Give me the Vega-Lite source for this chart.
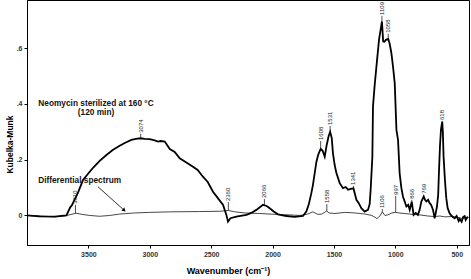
{
  "$schema": "https://vega.github.io/schema/vega-lite/v6.json",
  "width": 442,
  "height": 245,
  "autosize": {"type": "none"},
  "padding": {"left": 27, "top": 0, "right": 2, "bottom": 34},
  "background": "white",
  "config": {
    "view": {"stroke": "black", "strokeWidth": 1},
    "font": "Liberation Sans",
    "axis": {"grid": false, "domainColor": "black", "tickColor": "black", "tickSize": 3, "labelFont": "Liberation Sans", "labelFontSize": 7, "labelFontWeight": "bold", "labelColor": "#333", "titleFont": "Liberation Sans", "titleFontWeight": "bold", "titleColor": "black"}
  },
  "datasets": {
    "spec": [
      {"s":"m","wn":4000,"k":0.000},{"s":"m","wn":3897,"k":-0.003},{"s":"m","wn":3774,"k":-0.004},{"s":"m","wn":3679,"k":0.000},
      {"s":"m","wn":3647,"k":0.030},{"s":"m","wn":3635,"k":0.036},{"s":"m","wn":3583,"k":0.084},{"s":"m","wn":3544,"k":0.127},
      {"s":"m","wn":3511,"k":0.145},{"s":"m","wn":3462,"k":0.171},{"s":"m","wn":3408,"k":0.196},{"s":"m","wn":3353,"k":0.217},
      {"s":"m","wn":3302,"k":0.235},{"s":"m","wn":3245,"k":0.250},{"s":"m","wn":3204,"k":0.260},{"s":"m","wn":3150,"k":0.271},
      {"s":"m","wn":3114,"k":0.275},{"s":"m","wn":3074,"k":0.277},{"s":"m","wn":3041,"k":0.275},{"s":"m","wn":3000,"k":0.274},
      {"s":"m","wn":2960,"k":0.269},{"s":"m","wn":2933,"k":0.265},{"s":"m","wn":2911,"k":0.267},{"s":"m","wn":2878,"k":0.265},
      {"s":"m","wn":2837,"k":0.238},{"s":"m","wn":2797,"k":0.228},{"s":"m","wn":2756,"k":0.205},{"s":"m","wn":2699,"k":0.189},
      {"s":"m","wn":2648,"k":0.175},{"s":"m","wn":2610,"k":0.163},{"s":"m","wn":2567,"k":0.139},{"s":"m","wn":2528,"k":0.120},
      {"s":"m","wn":2485,"k":0.085},{"s":"m","wn":2447,"k":0.063},{"s":"m","wn":2403,"k":0.038},{"s":"m","wn":2376,"k":0.002},
      {"s":"m","wn":2363,"k":-0.022},{"s":"m","wn":2343,"k":-0.010},{"s":"m","wn":2295,"k":-0.004},{"s":"m","wn":2213,"k":0.002},
      {"s":"m","wn":2173,"k":0.009},{"s":"m","wn":2132,"k":0.020},{"s":"m","wn":2078,"k":0.038},{"s":"m","wn":2048,"k":0.034},
      {"s":"m","wn":2023,"k":0.026},{"s":"m","wn":1991,"k":0.014},{"s":"m","wn":1956,"k":0.004},{"s":"m","wn":1887,"k":-0.002},
      {"s":"m","wn":1820,"k":-0.005},{"s":"m","wn":1752,"k":-0.002},{"s":"m","wn":1725,"k":0.014},{"s":"m","wn":1706,"k":0.038},
      {"s":"m","wn":1684,"k":0.080},{"s":"m","wn":1671,"k":0.110},{"s":"m","wn":1643,"k":0.192},{"s":"m","wn":1629,"k":0.217},
      {"s":"m","wn":1608,"k":0.239},{"s":"m","wn":1592,"k":0.232},{"s":"m","wn":1575,"k":0.211},{"s":"m","wn":1559,"k":0.253},
      {"s":"m","wn":1543,"k":0.285},{"s":"m","wn":1531,"k":0.300},{"s":"m","wn":1518,"k":0.278},{"s":"m","wn":1508,"k":0.223},
      {"s":"m","wn":1494,"k":0.181},{"s":"m","wn":1480,"k":0.152},{"s":"m","wn":1453,"k":0.116},{"s":"m","wn":1426,"k":0.098},
      {"s":"m","wn":1404,"k":0.102},{"s":"m","wn":1385,"k":0.092},{"s":"m","wn":1364,"k":0.095},{"s":"m","wn":1341,"k":0.097},
      {"s":"m","wn":1317,"k":0.056},{"s":"m","wn":1299,"k":0.045},{"s":"m","wn":1277,"k":0.026},{"s":"m","wn":1250,"k":0.014},
      {"s":"m","wn":1223,"k":0.020},{"s":"m","wn":1209,"k":0.041},{"s":"m","wn":1201,"k":0.092},{"s":"m","wn":1187,"k":0.211},
      {"s":"m","wn":1182,"k":0.391},{"s":"m","wn":1168,"k":0.469},{"s":"m","wn":1154,"k":0.534},{"s":"m","wn":1133,"k":0.630},
      {"s":"m","wn":1109,"k":0.696},{"s":"m","wn":1099,"k":0.624},{"s":"m","wn":1089,"k":0.623},{"s":"m","wn":1077,"k":0.630},
      {"s":"m","wn":1058,"k":0.633},{"s":"m","wn":1046,"k":0.616},{"s":"m","wn":1032,"k":0.582},{"s":"m","wn":1018,"k":0.530},
      {"s":"m","wn":1005,"k":0.475},{"s":"m","wn":991,"k":0.307},{"s":"m","wn":978,"k":0.271},{"s":"m","wn":965,"k":0.152},
      {"s":"m","wn":951,"k":0.099},{"s":"m","wn":938,"k":0.068},{"s":"m","wn":910,"k":0.032},{"s":"m","wn":895,"k":0.038},
      {"s":"m","wn":883,"k":0.020},{"s":"m","wn":866,"k":0.050},{"s":"m","wn":857,"k":0.020},{"s":"m","wn":851,"k":0.002},
      {"s":"m","wn":834,"k":0.009},{"s":"m","wn":816,"k":0.002},{"s":"m","wn":802,"k":0.020},{"s":"m","wn":788,"k":0.050},
      {"s":"m","wn":769,"k":0.068},{"s":"m","wn":758,"k":0.056},{"s":"m","wn":747,"k":0.050},{"s":"m","wn":733,"k":0.056},
      {"s":"m","wn":720,"k":0.044},{"s":"m","wn":708,"k":0.038},{"s":"m","wn":693,"k":0.020},{"s":"m","wn":680,"k":-0.010},
      {"s":"m","wn":669,"k":0.013},{"s":"m","wn":661,"k":0.032},{"s":"m","wn":651,"k":0.074},{"s":"m","wn":645,"k":0.152},
      {"s":"m","wn":636,"k":0.253},{"s":"m","wn":628,"k":0.310},{"s":"m","wn":618,"k":0.337},{"s":"m","wn":613,"k":0.300},
      {"s":"m","wn":607,"k":0.211},{"s":"m","wn":596,"k":0.127},{"s":"m","wn":585,"k":0.062},{"s":"m","wn":574,"k":0.027},
      {"s":"m","wn":558,"k":0.008},{"s":"m","wn":541,"k":-0.002},{"s":"m","wn":517,"k":-0.010},{"s":"m","wn":501,"k":-0.002},
      {"s":"m","wn":484,"k":-0.020},{"s":"m","wn":476,"k":-0.013},{"s":"m","wn":460,"k":-0.023},{"s":"m","wn":447,"k":-0.005},
      {"s":"m","wn":435,"k":-0.002},{"s":"m","wn":427,"k":-0.016},{"s":"m","wn":419,"k":-0.010},{"s":"m","wn":407,"k":-0.005},
      {"s":"d","wn":4000,"k":0.000},{"s":"d","wn":3897,"k":-0.002},{"s":"d","wn":3774,"k":-0.005},{"s":"d","wn":3676,"k":0.000},
      {"s":"d","wn":3600,"k":0.008},{"s":"d","wn":3554,"k":0.004},{"s":"d","wn":3489,"k":0.000},{"s":"d","wn":3408,"k":-0.003},
      {"s":"d","wn":3326,"k":0.000},{"s":"d","wn":3245,"k":0.005},{"s":"d","wn":3123,"k":0.009},{"s":"d","wn":3000,"k":0.011},
      {"s":"d","wn":2837,"k":0.013},{"s":"d","wn":2593,"k":0.014},{"s":"d","wn":2430,"k":0.015},{"s":"d","wn":2360,"k":0.018},
      {"s":"d","wn":2308,"k":0.013},{"s":"d","wn":2226,"k":0.009},{"s":"d","wn":2104,"k":0.007},{"s":"d","wn":1982,"k":0.004},
      {"s":"d","wn":1860,"k":0.002},{"s":"d","wn":1778,"k":0.000},{"s":"d","wn":1713,"k":0.005},{"s":"d","wn":1672,"k":0.013},
      {"s":"d","wn":1632,"k":0.004},{"s":"d","wn":1599,"k":0.005},{"s":"d","wn":1558,"k":0.016},{"s":"d","wn":1541,"k":0.009},
      {"s":"d","wn":1492,"k":0.007},{"s":"d","wn":1411,"k":0.011},{"s":"d","wn":1330,"k":0.009},{"s":"d","wn":1248,"k":0.005},
      {"s":"d","wn":1191,"k":0.000},{"s":"d","wn":1150,"k":-0.011},{"s":"d","wn":1126,"k":-0.002},{"s":"d","wn":1106,"k":0.013},
      {"s":"d","wn":1085,"k":0.000},{"s":"d","wn":1061,"k":0.002},{"s":"d","wn":1028,"k":0.009},{"s":"d","wn":997,"k":0.011},
      {"s":"d","wn":971,"k":0.009},{"s":"d","wn":922,"k":0.007},{"s":"d","wn":865,"k":0.004},{"s":"d","wn":800,"k":0.002},
      {"s":"d","wn":735,"k":-0.002},{"s":"d","wn":679,"k":-0.004},{"s":"d","wn":638,"k":-0.002},{"s":"d","wn":597,"k":-0.005},
      {"s":"d","wn":541,"k":-0.004},{"s":"d","wn":492,"k":-0.007},{"s":"d","wn":451,"k":-0.011},{"s":"d","wn":411,"k":-0.005}
    ],
    "peaks": [
      {"wn":3074,"t":"3074","k":0.277,"ly":0.293},
      {"wn":3605,"t":"3610","k":0.008,"ly":0.038},
      {"wn":2360,"t":"2360","k":0.018,"ly":0.048},
      {"wn":2066,"t":"2066","k":0.038,"ly":0.059},
      {"wn":1608,"t":"1608","k":0.239,"ly":0.267},
      {"wn":1531,"t":"1531","k":0.300,"ly":0.321},
      {"wn":1558,"t":"1558","k":0.016,"ly":0.041},
      {"wn":1341,"t":"1341","k":0.097,"ly":0.106},
      {"wn":1109,"t":"1109","k":0.696,"ly":0.716},
      {"wn":1058,"t":"1058","k":0.633,"ly":0.652},
      {"wn":1106,"t":"1106","k":0.013,"ly":0.023},
      {"wn":997,"t":"997","k":0.011,"ly":0.070},
      {"wn":866,"t":"866","k":0.050,"ly":0.056},
      {"wn":769,"t":"769","k":0.068,"ly":0.074},
      {"wn":618,"t":"618","k":0.337,"ly":0.339}
    ],
    "notes": [
      {"wn":3438,"k":0.400,"t":"Neomycin sterilized at 160 °C"},
      {"wn":3438,"k":0.366,"t":"(120 min)"},
      {"wn":3571,"k":0.124,"t":"Differential spectrum"}
    ],
    "arrow": [
      {"wn":3422,"k":0.103,"wn2":3212,"k2":0.020}
    ]
  },
  "layer": [
    {
      "data": {"name": "spec"},
      "transform": [{"filter": "datum.s === 'd'"}],
      "mark": {"type": "line", "color": "#333", "strokeWidth": 0.9, "interpolate": "linear"},
      "encoding": {
        "x": {"field": "wn", "type": "quantitative", "scale": {"domain": [400, 4000], "reverse": true, "nice": false, "zero": false},
          "axis": {"values": [3500, 3000, 2500, 2000, 1500, 1000, 500], "title": "Wavenumber (cm⁻¹)", "titleFontSize": 9, "titleX": 201, "titleY": 25, "titleBaseline": "middle", "titleAnchor": null, "labelPadding": 2, "format": "d"}},
        "y": {"field": "k", "type": "quantitative", "scale": {"domain": [-0.106, 0.773], "nice": false, "zero": false},
          "axis": {"values": [0, 0.2, 0.4, 0.6], "labelExpr": "datum.value == 0 ? '0' : replace(format(datum.value, '.1f'), '0.', '.')", "title": "Kubelka-Munk", "titleFontSize": 8.5, "titleAngle": 270, "titleX": -18, "titleY": 144, "titleAlign": "center", "titleBaseline": "middle", "labelPadding": 2}}
      }
    },
    {
      "data": {"name": "spec"},
      "transform": [{"filter": "datum.s === 'm'"}],
      "mark": {"type": "line", "color": "black", "strokeWidth": 1.8},
      "encoding": {
        "x": {"field": "wn", "type": "quantitative"},
        "y": {"field": "k", "type": "quantitative"}
      }
    },
    {
      "data": {"name": "peaks"},
      "mark": {"type": "rule", "color": "#222", "strokeWidth": 0.8},
      "encoding": {
        "x": {"field": "wn", "type": "quantitative"},
        "y": {"field": "k", "type": "quantitative"},
        "y2": {"field": "ly"}
      }
    },
    {
      "data": {"name": "peaks"},
      "mark": {"type": "text", "angle": 270, "align": "left", "baseline": "middle", "fontSize": 6, "color": "#222", "dx": 1},
      "encoding": {
        "x": {"field": "wn", "type": "quantitative"},
        "y": {"field": "ly", "type": "quantitative"},
        "text": {"field": "t"}
      }
    },
    {
      "data": {"name": "notes"},
      "mark": {"type": "text", "align": "center", "baseline": "middle", "fontSize": 8.3, "fontWeight": "bold", "color": "#111"},
      "encoding": {
        "x": {"field": "wn", "type": "quantitative"},
        "y": {"field": "k", "type": "quantitative"},
        "text": {"field": "t"}
      }
    },
    {
      "data": {"name": "arrow"},
      "mark": {"type": "rule", "color": "black", "strokeWidth": 0.8},
      "encoding": {
        "x": {"field": "wn", "type": "quantitative"},
        "y": {"field": "k", "type": "quantitative"},
        "x2": {"field": "wn2"},
        "y2": {"field": "k2"}
      }
    },
    {
      "data": {"name": "arrow"},
      "mark": {"type": "point", "shape": "triangle", "filled": true, "color": "black", "size": 18, "angle": 132, "opacity": 1},
      "encoding": {
        "x": {"field": "wn2", "type": "quantitative"},
        "y": {"field": "k2", "type": "quantitative"}
      }
    }
  ]
}
